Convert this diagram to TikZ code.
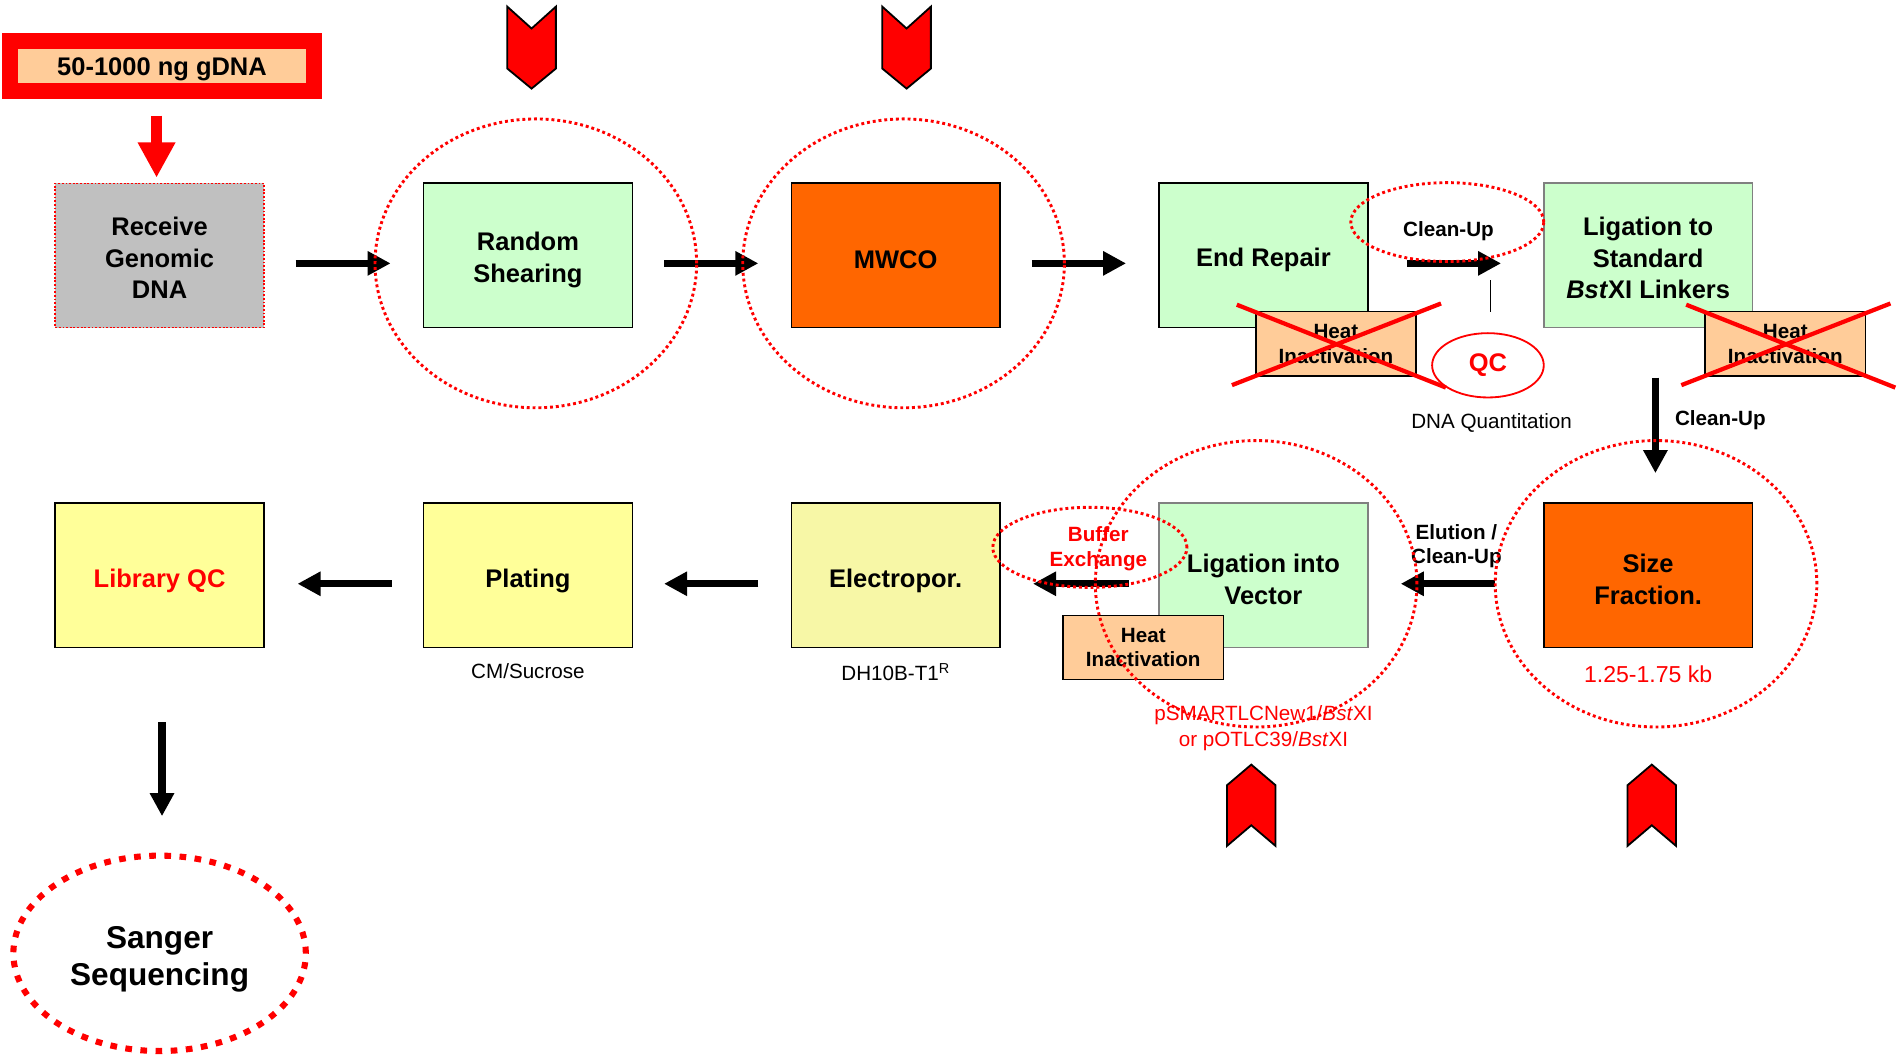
\documentclass[tikz,border=0pt]{standalone}
\usepackage{fontspec}
\setmainfont{Liberation Sans}
\usepackage{xcolor}
\usepackage{tikz}
\usetikzlibrary{
  arrows.meta,
  positioning,
  shapes.geometric}
\definecolor{mint}{HTML}{CCFFCC}
\definecolor{tangerine}{HTML}{FF6600}
\definecolor{peach}{HTML}{FFCC99}
\definecolor{lemon}{HTML}{FFFF99}
\definecolor{straw}{HTML}{F7F7A6}
\definecolor{slate}{HTML}{C0C0C0}
\tikzset{every picture/.style={font issue=\bfseries},
         font issue/.style={execute at begin picture={#1\selectfont}}
        }

\begin{document}
\begin{tikzpicture}[x=1pt, y=-1pt,
  stage/.style={draw, line width=1.3pt, minimum width=172pt, minimum height=119pt, inner sep=0pt},
  caption/.style={align=center, inner sep=0pt, yshift=-3.5pt, font=\fontsize{21}{26}\selectfont\bfseries},
  heatbox/.style={draw, fill=peach, line width=1.3pt, minimum width=132pt, minimum height=53pt, inner sep=0pt, align=center, font=\fontsize{17}{20.5}\selectfont\bfseries},
  ring/.style={ellipse, draw=red, line width=2.4pt, dash pattern=on 2.4pt off 2.4pt, inner sep=0pt},
  flow/.style={line width=6pt, -{Triangle[length=19pt, width=19pt]}, shorten <=25.5pt, shorten >=26.5pt},
  cross/.style={draw=red, line width=3.5pt},
  note/.style={font=\fontsize{17}{21}\selectfont\mdseries, align=center, inner sep=0pt},
  tag/.style={font=\fontsize{17}{20}\selectfont\bfseries, align=center, inner sep=0pt},
  marker/.style={draw, fill=red, line width=1.5pt, line join=miter}
]
\fill[white] (0,0) rectangle (1568,873);
\useasboundingbox (0,0) rectangle (1568,873);

%input
\node[draw=red, fill=peach, line width=13pt, minimum width=250pt, minimum height=41.5pt, inner sep=0pt, label={[caption, yshift=0.5pt]center:50-1000 ng gDNA}] (gdna) at (133.5,54.5) {};

%first row
\node[stage, fill=slate, draw=red, line width=1.2pt, dash pattern=on 1.5pt off 1.5pt, label={[caption, yshift=1.5pt]center:Receive\\Genomic\\DNA}] (receive) at (131.5,210.5) {};
\node[stage, fill=mint, label={[caption]center:Random\\Shearing}] (shearing) at (435,210.5) {};
\node[stage, fill=tangerine, label={[caption]center:MWCO}] (mwco) at (738,210.5) {};
\node[stage, fill=mint, label={[caption]center:End Repair}] (endrepair) at (1041,210.5) {};
\node[stage, fill=mint, draw=gray, label={[caption, yshift=1.5pt]center:Ligation to\\Standard\\\textit{Bst}XI Linkers}] (linkers) at (1358,210.5) {};

%second row
\node[stage, fill=tangerine, label={[caption]center:Size\\Fraction.}] (sizefrac) at (1358,474) {};
\node[stage, fill=mint, draw=gray, label={[caption]center:Ligation into\\Vector}] (vector) at (1041,474) {};
\node[stage, fill=straw, label={[caption, yshift=-1pt]center:Electropor.}] (electro) at (738,474) {};
\node[stage, fill=lemon, label={[caption, yshift=-1pt]center:Plating}] (plating) at (435,474) {};
\node[stage, fill=lemon, label={[caption, yshift=-1pt, text=red]center:Library QC}] (libqc) at (131.5,474) {};

\node[ellipse, draw=red, line width=5pt, dash pattern=on 5.5pt off 7pt, minimum width=241pt, minimum height=161pt, inner sep=0pt, label={[caption, yshift=-1.5pt, font=\fontsize{26}{31}\selectfont\bfseries]center:Sanger\\Sequencing}] (sanger) at (131.5,785.5) {};

%heat steps
\node[heatbox] (heatA) at (1100.7,283.2) {Heat\\Inactivation};
\node[heatbox] (heatB) at (1471,283.2) {Heat\\Inactivation};
\node[heatbox] (heatC) at (942,533.5) {Heat\\Inactivation};
\foreach \h in {heatA, heatB} {
  \draw[cross] ([shift={(-19,7)}]\h.south west) -- ([shift={(20,-6)}]\h.north east);
  \draw[cross] ([shift={(-15,-5)}]\h.north west) -- ([shift={(24,9)}]\h.south east);
}

%qc
\node[ellipse, draw=red, line width=1.5pt, minimum width=92pt, minimum height=53pt, inner sep=0pt, text=red, font=\fontsize{21}{26}\selectfont\bfseries] (qc) at (1226,301) {QC};
\node[note, below=12pt of qc, xshift=3pt] (quant) {DNA Quantitation};
\coordinate (qclink) at (1228,257);
\coordinate (cleanlink) at (1228,231);
\draw[line width=1pt] (qclink) -- (cleanlink);

%labels
\node[tag] (cleanup) at (1193.5,190.5) {Clean-Up};
\node[tag, anchor=west] (cleanupdown) at (1380,346) {Clean-Up};
\node[tag] (elution) at (1200,450) {Elution /\\Clean-Up};
\node[tag, text=red] (buffer) at (905,452) {Buffer\\Exchange};
\node[note, below=12pt of plating] (sucrose) {CM/Sucrose};
\node[note, below=12pt of electro] (strain) {DH10B-T1\textsuperscript{R}};
\node[note, text=red, font=\fontsize{19}{23}\selectfont\mdseries, below=14pt of sizefrac] (range) {1.25-1.75 kb};
\node[note, text=red, below=47pt of vector] (plasmid) {pSMARTLCNew1/\textit{Bst}XI\\or pOTLC39/\textit{Bst}XI};

%lines
\draw[red, line width=9.5pt, -{Triangle[length=29pt, width=29pt]}, shorten <=13.5pt, shorten >=4pt] ([xshift=-4.5pt]gdna.south) -- ([xshift=-2.5pt]receive.north);
\draw[flow] ([yshift=-6.5pt]receive.east) -- ([yshift=-6.5pt]shearing.west);
\draw[flow] ([yshift=-6.5pt]shearing.east) -- ([yshift=-6.5pt]mwco.west);
\draw[flow] ([yshift=-6.5pt]mwco.east) -- ([yshift=-6.5pt]endrepair.west);
\draw[flow, shorten <=31.5pt, shorten >=34.5pt] ([yshift=-6.5pt]endrepair.east) -- ([yshift=-6.5pt]linkers.west);
\draw[flow, shorten <=40.5pt, shorten >=24pt] ([xshift=6pt]linkers.south) -- ([xshift=6pt]sizefrac.north);
\draw[flow, shorten <=39.5pt] ([yshift=-7pt]sizefrac.west) -- ([yshift=-7pt]vector.east);
\draw[flow, shorten <=24.5pt] ([yshift=-7pt]vector.west) -- ([yshift=-7pt]electro.east);
\draw[flow, shorten <=26.5pt, shorten >=25.5pt] ([yshift=-7pt]electro.west) -- ([yshift=-7pt]plating.east);
\draw[flow, shorten >=27pt] ([yshift=-7pt]plating.west) -- ([yshift=-7pt]libqc.east);
\draw[flow, shorten <=61pt, shorten >=30pt] ([xshift=2pt]libqc.south) -- ([xshift=2pt]sanger.north);

%markers
\foreach \cx in {438,747}
  \draw[marker] (\cx-20,5.5) -- (\cx,23.5) -- (\cx+20,5.5) -- (\cx+20,56.5) -- (\cx,73) -- (\cx-20,56.5) -- cycle;
\foreach \cx in {1031,1361}
  \draw[marker] (\cx,630) -- (\cx+20,647) -- (\cx+20,697) -- (\cx,680) -- (\cx-20,697) -- (\cx-20,647) -- cycle;

%rings
\node[ring, minimum width=265pt, minimum height=238pt] (shearring) at (441.5,217) {};
\node[ring, minimum width=265pt, minimum height=238pt] (mwcoring) at (744.5,217) {};
\node[ring, minimum width=159pt, minimum height=65pt] (cleanring) at (1192.5,183) {};
\node[ring, minimum width=265pt, minimum height=236pt] (vectorring) at (1035,481) {};
\node[ring, minimum width=265pt, minimum height=236pt] (sizering) at (1364.5,481) {};
\node[ring, minimum width=160pt, minimum height=66pt] (bufferring) at (898,451) {};

\end{tikzpicture}
\end{document}
